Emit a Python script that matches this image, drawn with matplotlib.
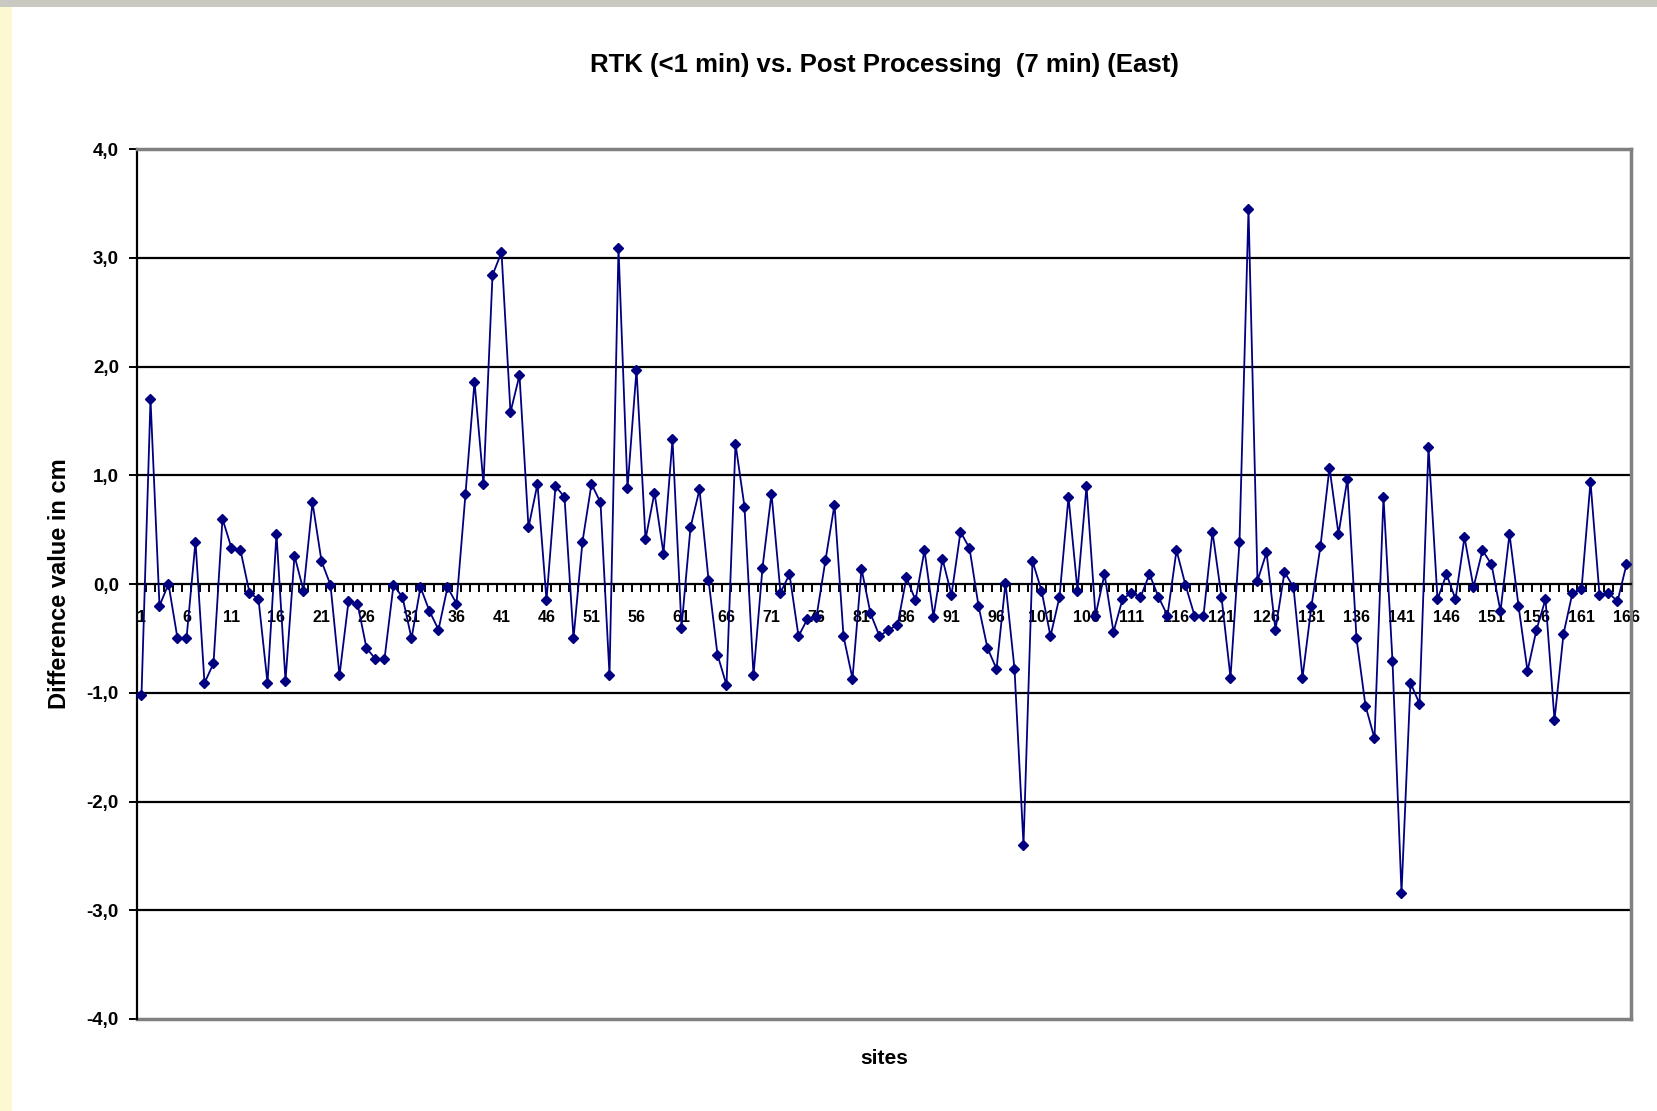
import matplotlib
matplotlib.use("Agg")
import matplotlib.pyplot as plt
from matplotlib.patches import Rectangle
import numpy as np

# ---------------- data ----------------
sites = list(range(1, 167))
diff_cm = [
    -1.02, 1.70, -0.20, 0.00, -0.50, -0.50, 0.39, -0.91, -0.73, 0.60,
    0.33, 0.31, -0.08, -0.14, -0.91, 0.46, -0.89, 0.26, -0.06, 0.75,
    0.21, -0.01, -0.84, -0.16, -0.18, -0.59, -0.69, -0.69, -0.01, -0.12,
    -0.50, -0.03, -0.25, -0.42, -0.03, -0.18, 0.83, 1.86, 0.92, 2.84,
    3.05, 1.58, 1.92, 0.52, 0.92, -0.15, 0.90, 0.80, -0.50, 0.39,
    0.92, 0.75, -0.84, 3.09, 0.88, 1.97, 0.41, 0.84, 0.28, 1.33,
    -0.40, 0.52, 0.87, 0.04, -0.65, -0.93, 1.29, 0.71, -0.84, 0.15,
    0.83, -0.08, 0.09, -0.48, -0.32, -0.30, 0.22, 0.73, -0.48, -0.87,
    0.14, -0.27, -0.48, -0.42, -0.38, 0.06, -0.15, 0.31, -0.30, 0.23,
    -0.10, 0.48, 0.33, -0.20, -0.59, -0.78, 0.01, -0.78, -2.40, 0.21,
    -0.06, -0.48, -0.12, 0.80, -0.06, 0.90, -0.29, 0.09, -0.44, -0.14,
    -0.08, -0.12, 0.09, -0.12, -0.29, 0.31, -0.01, -0.29, -0.29, 0.48,
    -0.12, -0.86, 0.39, 3.45, 0.03, 0.29, -0.42, 0.11, -0.03, -0.86,
    -0.20, 0.35, 1.07, 0.46, 0.97, -0.50, -1.12, -1.42, 0.80, -0.71,
    -2.84, -0.91, -1.10, 1.26, -0.14, 0.09, -0.14, 0.43, -0.03, 0.31,
    0.18, -0.25, 0.46, -0.20, -0.80, -0.42, -0.14, -1.25, -0.46, -0.08,
    -0.05, 0.94, -0.10, -0.08, -0.16, 0.18,
]
y_ticks = [4, 3, 2, 1, 0, -1, -2, -3, -4]
y_tick_labels = ["4,0", "3,0", "2,0", "1,0", "0,0", "-1,0", "-2,0", "-3,0", "-4,0"]
x_tick_sites = list(range(1, 167, 5))
x_tick_labels = [str(s) for s in x_tick_sites]
title = "RTK (<1 min) vs. Post Processing  (7 min) (East)"
x_label = "sites"
y_label = "Difference value in cm"

# ---------------- figure ----------------
plt.rcParams['font.family'] = ['Liberation Sans', 'DejaVu Sans']
W, H = 1658, 1111
fig = plt.figure(figsize=(W / 100, H / 100), dpi=100)
fig.patch.set_facecolor('white')

# slide-like border decorations
fig.add_artist(Rectangle((0, 0), 12 / W, 1, transform=fig.transFigure,
                         facecolor='#fbf8d2', edgecolor='none', zorder=0))
fig.add_artist(Rectangle((0, 1 - 7 / H), 1, 7 / H, transform=fig.transFigure,
                         facecolor='#c9c9c1', edgecolor='none', zorder=0))

left, right, top, bottom = 137, 1631, 149, 1019
ax = fig.add_axes([left / W, 1 - bottom / H, (right - left) / W, (bottom - top) / H])
ax.set_facecolor('white')
ax.set_xlim(0.5, 166.5)
ax.set_ylim(-4, 4)

for y in [-3, -2, -1, 1, 2, 3]:
    ax.axhline(y, color='black', lw=1.6, zorder=1)

ax.plot(sites, diff_cm, color='#000080', lw=1.3, marker='D', ms=5.5,
        markeredgecolor='#000080', markerfacecolor='#000080', zorder=3, clip_on=False)

# axes frame
ax.spines['bottom'].set_position(('data', 0))
ax.spines['bottom'].set_color('black')
ax.spines['bottom'].set_linewidth(1.6)
ax.spines['left'].set_color('black')
ax.spines['left'].set_linewidth(1.6)
for s in ['top', 'right']:
    ax.spines[s].set_color('#808080')
    ax.spines[s].set_linewidth(2.5)
ax.axhline(-4, color='#808080', lw=2.5, clip_on=False, zorder=2)

# x ticks
ax.set_xticks(x_tick_sites)
ax.set_xticklabels(x_tick_labels, fontweight='bold')
ax.set_xticks(np.arange(0.5, 167, 1), minor=True)
ax.tick_params(axis='x', which='major', length=0, pad=19, labelsize=11.5)
ax.tick_params(axis='x', which='minor', length=6, width=1.4, direction='out', color='black')

# y ticks
ax.set_yticks(y_ticks)
ax.set_yticklabels(y_tick_labels, fontweight='bold')
ax.tick_params(axis='y', which='major', length=6, width=1.4, pad=7, labelsize=13.5)

# texts
fig.text(0.5 * (left + right) / W, 1 - 65 / H, title, ha='center', va='center',
         fontsize=18.5, fontweight='bold')
fig.text(0.5 * (left + right) / W, 1 - 1059 / H, x_label, ha='center', va='center',
         fontsize=15, fontweight='bold')
fig.text(60 / W, 1 - 0.5 * (top + bottom) / H, y_label, ha='center', va='center',
         rotation=90, fontsize=17, fontweight='bold')

fig.savefig('out.png', dpi=100, facecolor=fig.get_facecolor())
